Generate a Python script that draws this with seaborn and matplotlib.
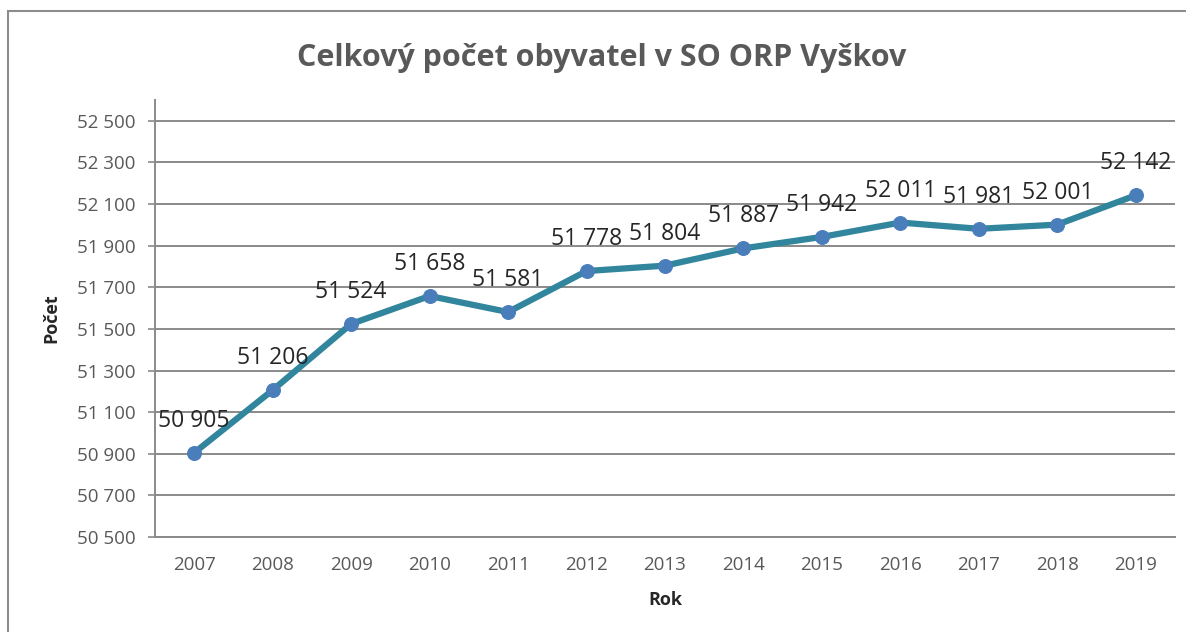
import matplotlib
matplotlib.use("Agg")
import matplotlib.pyplot as plt
import seaborn as sns
import pandas as pd
from matplotlib.patches import Rectangle

# Data
roky = [2007, 2008, 2009, 2010, 2011, 2012, 2013, 2014, 2015, 2016, 2017, 2018, 2019]
pocet = [50905, 51206, 51524, 51658, 51581, 51778, 51804, 51887, 51942, 52011, 51981, 52001, 52142]
y_ticks = [50500, 50700, 50900, 51100, 51300, 51500, 51700, 51900, 52100, 52300, 52500]


def fmt(v):
    return f"{v:,}".replace(",", " ")


df = pd.DataFrame({"Rok": roky, "Počet": pocet})

sns.set_style("white")
plt.rcParams["font.family"] = ["Open Sans", "DejaVu Sans"]

fig = plt.figure(figsize=(11.86, 6.32), dpi=100)
ax = fig.add_axes([0.1307, 0.1503, 0.860, 0.6915])

sns.lineplot(data=df, x="Rok", y="Počet", ax=ax, color="#31859C", linewidth=4.5,
             marker="o", markersize=10, markerfacecolor="#4A7EBB",
             markeredgecolor="#4A7EBB", zorder=3)

for x, y in zip(roky, pocet):
    ax.annotate(fmt(y), (x, y), xytext=(0, 23), textcoords="offset points",
                ha="center", va="center", fontsize=16.5, color="#262626", zorder=4)

ax.set_xlim(2006.5, 2019.5)
ax.set_ylim(50500, 52600)
ax.set_xticks(roky)
ax.set_xticklabels([str(r) for r in roky])
ax.set_yticks(y_ticks)
ax.set_yticklabels([fmt(v) for v in y_ticks])

ax.yaxis.grid(True, color="#8a8a8a", linewidth=1.4)
ax.set_axisbelow(True)
for side in ["top", "right"]:
    ax.spines[side].set_visible(False)
ax.spines["left"].set_color("#8a8a8a")
ax.spines["left"].set_linewidth(1.4)
ax.spines["bottom"].set_color("#8a8a8a")
ax.spines["bottom"].set_linewidth(1.4)

ax.tick_params(axis="y", direction="out", length=5, width=1.2, color="#8a8a8a",
               pad=9, labelsize=13.5, labelcolor="#595959", left=True)
ax.tick_params(axis="x", length=0, pad=14, labelsize=13.5, labelcolor="#595959")

ax.set_xlabel("Rok", fontsize=13, fontweight="bold", color="#262626", labelpad=12)
ax.set_ylabel("Počet", fontsize=13, fontweight="bold", color="#262626", labelpad=12)

fig.text(0.507, 0.908, "Celkový počet obyvatel v SO ORP Vyškov", ha="center", va="center",
         fontsize=22, fontweight="bold", color="#595959")

# outer chart frame
fig.patches.append(Rectangle((8 / 1186, -0.1), 1.2, 1.083, transform=fig.transFigure,
                             fill=False, edgecolor="#8c8c8c", linewidth=1.5))

fig.savefig("out.png", dpi=100)
